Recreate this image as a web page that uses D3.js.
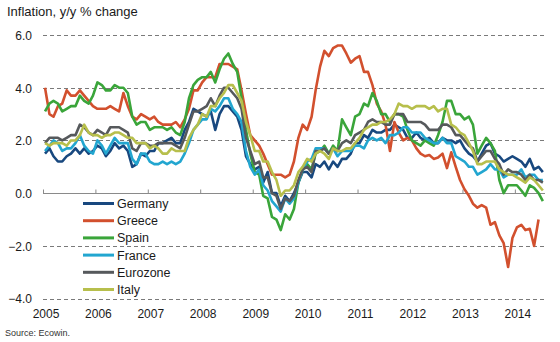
<!DOCTYPE html>
<html>
<head>
<meta charset="utf-8">
<script src="https://cdn.jsdelivr.net/npm/d3@7/dist/d3.min.js"></script>
<style>
  html, body { margin: 0; padding: 0; background: #fff; }
  svg { display: block; }
  text { font-family: "Liberation Sans", Arial, sans-serif; fill: #1a1a1a; }
</style>
</head>
<body>
<script>
// Monthly inflation, year-on-year % change, Jan 2005 onwards
const firstMonth = [2005, 0];
const years = [2005, 2006, 2007, 2008, 2009, 2010, 2011, 2012, 2013, 2014];
const yTicks = [-4, -2, 0, 2, 4, 6];
const seriesNames = ["Germany", "Greece", "Spain", "France", "Eurozone", "Italy"];
const seriesColors = ["#18487f", "#d2502e", "#3aa53a", "#22a6d0", "#56595c", "#b7bf4c"];

const germany = [
  1.5, 1.7, 1.4, 1.2, 1.2, 1.4, 1.5, 1.7, 1.5, 1.7, 1.5, 1.6,
  1.8, 1.7, 1.4, 1.6, 1.9, 1.7, 1.8, 1.6, 1.0, 1.1, 1.5, 1.4,
  1.6, 1.6, 1.9, 1.9, 2.0, 2.1, 1.9, 1.9, 2.4, 2.7, 3.2, 3.1,
  3.0, 2.9, 3.1, 2.4, 3.0, 3.3, 3.3, 3.1, 2.9, 2.4, 1.4, 1.1,
  0.9, 1.0, 0.4, 0.8, 0.0, 0.0, -0.5, -0.1, -0.3, 0.0, 0.4, 0.8,
  0.8, 0.6, 1.1, 1.0, 1.2, 0.9, 1.2, 1.0, 1.3, 1.3, 1.5, 1.9,
  1.9, 2.2, 2.1, 2.4, 2.3, 2.3, 2.4, 2.4, 2.6, 2.5, 2.4, 2.1,
  2.1, 2.3, 2.1, 2.0, 2.1, 1.9, 1.9, 2.1, 2.0, 2.0, 1.9, 2.0,
  1.7, 1.5, 1.4, 1.2, 1.5, 1.8, 1.9, 1.5, 1.4, 1.2, 1.3, 1.4,
  1.3, 1.2, 1.0, 1.3, 0.9, 1.0, 0.8
];
const greece = [
  4.0, 3.0, 2.9, 3.3, 3.4, 3.9, 3.7, 3.7, 3.9, 3.7, 3.5, 3.3,
  3.2, 3.2, 3.2, 3.3, 3.2, 3.1, 3.8, 3.3, 2.9, 2.8, 3.0, 2.9,
  2.8, 2.9, 2.7, 2.6, 2.6, 2.6, 2.7, 2.5, 2.8, 3.2, 3.9, 3.9,
  4.2, 4.4, 4.4, 4.4, 4.9, 4.9, 4.9, 4.8, 4.7, 3.9, 3.0, 2.2,
  2.0, 1.8, 1.5, 1.1, 0.7, 0.7, 0.7, 0.6, 0.7, 1.2, 2.1, 2.6,
  2.4, 2.9, 3.9, 4.8, 5.4, 5.2, 5.5, 5.6, 5.6, 5.3, 4.95, 5.1,
  5.2, 4.6, 4.6, 4.1, 3.4, 3.1, 2.6, 1.6, 2.7, 2.3, 2.0, 2.1,
  2.0, 1.7, 1.5, 1.4, 1.45, 1.3, 1.35, 1.5, 0.95, 1.55, 1.0, 0.5,
  0.15, -0.1, -0.4, -0.55, -0.45, -0.55, -1.2, -1.1, -1.6, -1.9, -2.8, -1.7,
  -1.3, -1.2, -1.4, -1.35, -2.0, -1.0
];
const spain = [
  3.1, 3.4, 3.5, 3.4, 3.1, 3.2, 3.3, 3.3, 3.7, 3.5, 3.4, 3.7,
  4.2, 4.1, 3.9, 3.9, 4.1, 4.0, 4.0, 3.8, 2.9, 2.6, 2.7, 2.7,
  2.4, 2.5, 2.5, 2.5, 2.4, 2.5, 2.3, 2.2, 2.7, 3.6, 4.1, 4.3,
  4.4, 4.4, 4.6, 4.2, 4.7, 5.1, 5.3, 4.9, 4.6, 3.6, 2.4, 1.5,
  0.8, 0.7, -0.1, -0.2, -0.9, -1.0, -1.4, -0.8, -1.0, -0.6, 0.4, 0.9,
  1.1, 0.9, 1.5, 1.6, 1.8, 1.5, 1.8, 1.6, 2.8, 2.5, 2.2, 2.9,
  3.0, 3.4, 3.3, 3.8, 3.5, 3.0, 3.0, 2.7, 3.0, 3.0, 2.9, 2.4,
  2.0, 1.9, 1.8, 2.0, 1.9, 1.8, 2.2, 2.7, 3.5, 3.5, 3.0, 3.0,
  2.8, 2.9, 2.6, 1.5, 1.8, 2.1, 1.9, 1.6, 0.5, 0.0, 0.3, 0.3,
  0.3, 0.1, -0.1, 0.3, 0.2, 0.0, -0.3
];
const france = [
  1.6, 1.8, 2.0, 1.9, 1.6, 1.7, 1.7, 1.9, 2.2, 1.8, 1.6, 1.5,
  2.0, 1.8, 1.5, 1.8, 2.1, 1.9, 1.9, 1.9, 1.3, 1.1, 1.5, 1.5,
  1.2, 1.1, 1.1, 1.2, 1.1, 1.2, 1.1, 1.2, 1.5, 1.9, 2.4, 2.6,
  2.8, 2.8, 3.2, 3.1, 3.3, 3.6, 3.6, 3.2, 3.0, 2.7, 1.6, 1.0,
  0.7, 0.9, 0.3, 0.1, -0.3, -0.5, -0.7, -0.2, -0.4, -0.2, 0.4, 0.9,
  1.2, 1.3, 1.7, 1.7, 1.7, 1.5, 1.7, 1.4, 1.6, 1.6, 1.6, 1.8,
  1.8, 1.7, 2.0, 2.1, 2.0, 2.1, 1.9, 2.2, 2.2, 2.3, 2.5, 2.5,
  2.3, 2.3, 2.3, 2.1, 2.0, 1.9, 1.9, 2.1, 1.9, 1.9, 1.4, 1.3,
  1.2, 1.0, 1.0, 0.7, 0.8, 0.9, 1.1, 0.9, 0.9, 0.6, 0.7, 0.7,
  0.7, 0.9, 0.6, 0.7, 0.7, 0.5, 0.5
];
const eurozone = [
  1.9, 2.1, 2.1, 2.1, 2.0, 2.1, 2.2, 2.2, 2.6, 2.5, 2.3, 2.2,
  2.4, 2.3, 2.2, 2.5, 2.5, 2.5, 2.4, 2.3, 1.7, 1.6, 1.9, 1.9,
  1.8, 1.8, 1.9, 1.9, 1.9, 1.9, 1.8, 1.7, 2.1, 2.6, 3.1, 3.1,
  3.2, 3.3, 3.6, 3.3, 3.7, 4.0, 4.0, 3.8, 3.6, 3.2, 2.1, 1.6,
  1.1, 1.2, 0.6, 0.6, 0.0, -0.1, -0.6, -0.2, -0.3, -0.1, 0.5, 0.9,
  1.0, 0.8, 1.6, 1.6, 1.7, 1.5, 1.7, 1.6, 1.9, 2.0, 1.9, 2.2,
  2.3, 2.4, 2.7, 2.8, 2.7, 2.7, 2.6, 2.6, 3.0, 3.0, 3.0, 2.7,
  2.7, 2.7, 2.7, 2.6, 2.4, 2.4, 2.4, 2.6, 2.6, 2.5, 2.2, 2.2,
  2.0, 1.8, 1.7, 1.2, 1.4, 1.6, 1.6, 1.3, 1.1, 0.7, 0.9, 0.8,
  0.8, 0.7, 0.5, 0.7, 0.5, 0.5, 0.4
];
const italy = [
  1.9, 1.8, 1.9, 1.9, 1.9, 1.8, 2.0, 2.0, 2.2, 2.6, 2.3, 2.2,
  2.2, 2.1, 2.2, 2.2, 2.3, 2.3, 2.2, 2.1, 2.1, 1.9, 1.9, 1.9,
  1.7, 1.8, 1.7, 1.5, 1.5, 1.7, 1.6, 1.6, 1.6, 2.1, 2.4, 2.6,
  3.0, 2.9, 3.3, 3.3, 3.6, 3.8, 4.1, 4.1, 3.8, 3.5, 2.7, 2.2,
  1.6, 1.6, 1.2, 1.2, 0.8, 0.5, -0.1, 0.1, 0.1, 0.3, 0.8, 1.0,
  1.3, 1.2, 1.5, 1.6, 1.5, 1.3, 1.7, 1.6, 1.6, 1.7, 1.7, 1.9,
  2.1, 2.4, 2.5, 2.6, 2.6, 2.7, 2.7, 2.8, 3.0, 3.4, 3.3, 3.3,
  3.2, 3.3, 3.3, 3.3, 3.2, 3.3, 3.1, 3.2, 3.2, 2.6, 2.5, 2.3,
  2.2, 1.9, 1.6, 1.1, 1.1, 1.2, 1.2, 1.2, 0.9, 0.8, 0.7, 0.7,
  0.6, 0.5, 0.4, 0.6, 0.5, 0.3, 0.1
];
const seriesValues = [germany, greece, spain, france, eurozone, italy];

const W = 560, H = 342;
const svg = d3.select("body").append("svg").attr("width", W).attr("height", H);

const x = d3.scaleTime()
  .domain([new Date(2005, 0, 1), new Date(2014, 6, 16)])
  .range([43, 543]);
const y = d3.scaleLinear().domain([-4, 6]).range([298.6, 35]);

const monthDate = i => new Date(firstMonth[0], firstMonth[1] + i, 15);

// title
svg.append("text").attr("x", 7).attr("y", 16)
  .style("font-size", "13px").text("Inflation, y/y % change");

// y labels
const yAxis = d3.axisLeft(y).tickValues(yTicks).tickSize(0).tickPadding(0)
  .tickFormat(d3.format(".1f"));
const gy = svg.append("g").attr("transform", "translate(32,0)").call(yAxis);
gy.select(".domain").remove();
gy.selectAll("text").style("font-size", "12px").attr("dy", "0.36em")
  .attr("font-family", null);

// dashed horizontal gridlines
svg.append("g").selectAll("line").data(yTicks.filter(d => d !== 0)).join("line")
  .attr("x1", 43).attr("x2", 545)
  .attr("y1", d => Math.round(y(d)) + 0.5).attr("y2", d => Math.round(y(d)) + 0.5)
  .attr("stroke", "#7a7a7a").attr("stroke-width", 1).attr("stroke-dasharray", "4,3");

// zero baseline with year ticks
const xAxis = d3.axisBottom(x)
  .tickValues(years.map(yr => new Date(yr, 0, 1)))
  .tickSize(-4).tickFormat("");
const gx = svg.append("g").attr("transform", `translate(0,${Math.round(y(0)) + 0.5})`).call(xAxis);
gx.select(".domain").attr("d", `M43,0H545`).attr("stroke", "#8a8a8a");
gx.selectAll(".tick line").attr("stroke", "#8a8a8a");

// year labels along the bottom
svg.append("g").selectAll("text").data(years).join("text")
  .attr("x", d => x(new Date(d, 0, 1)) + 3)
  .attr("y", 318)
  .attr("text-anchor", "middle")
  .style("font-size", "12px")
  .text(d => d);

// series lines
const line = d3.line()
  .x((d, i) => x(monthDate(i)))
  .y(d => y(d));
svg.append("g").selectAll("path").data(seriesValues).join("path")
  .attr("d", d => line(d))
  .attr("fill", "none")
  .attr("stroke", (d, i) => seriesColors[i])
  .attr("stroke-width", 2.6)
  .attr("stroke-linejoin", "round");

// legend
const leg = svg.append("g").selectAll("g").data(seriesNames).join("g")
  .attr("transform", (d, i) => `translate(83,${203.5 + i * 17.2})`);
leg.append("line").attr("x1", 0).attr("x2", 31).attr("y1", 0).attr("y2", 0)
  .attr("stroke", (d, i) => seriesColors[i]).attr("stroke-width", 3);
leg.append("text").attr("x", 34).attr("y", 0).attr("dy", "0.36em")
  .style("font-size", "12.5px").text(d => d);

// source note
svg.append("text").attr("x", 5).attr("y", 336)
  .style("font-size", "9px").style("fill", "#333").text("Source: Ecowin.");
</script>
</body>
</html>
